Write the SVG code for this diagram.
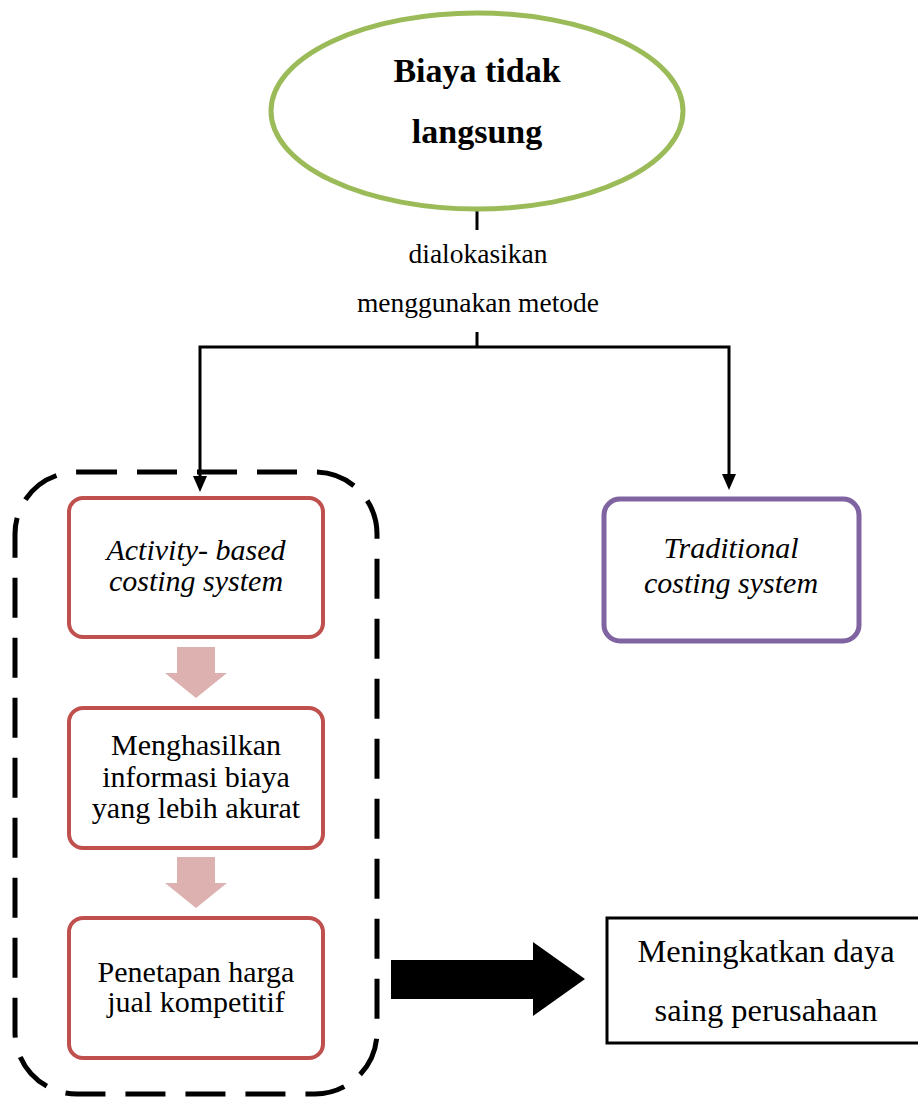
<svg xmlns="http://www.w3.org/2000/svg" width="918" height="1097" viewBox="0 0 918 1097">
<style>
text{font-family:"Liberation Serif","Times New Roman",serif;fill:#000;text-anchor:middle}
.lbl{font-size:27.5px}
.box{font-size:30px}
.it{font-style:italic}
.red{fill:#fff;stroke:#C0504D;stroke-width:4}
.pink{fill:#DDB1B0}
.conn{fill:none;stroke:#000;stroke-width:3}
</style>
<rect width="918" height="1097" fill="#fff"/>

<g id="group-abc">
<rect x="15" y="472" width="362" height="622" rx="62" fill="none" stroke="#000" stroke-width="5" stroke-dasharray="40 20"/>
</g>

<g id="connectors">
<line class="conn" x1="477" y1="203" x2="477" y2="230"/>
<line class="conn" x1="477" y1="332" x2="477" y2="348"/>
<path class="conn" d="M200,478 V347 H729 V476" stroke-linejoin="miter"/>
<path d="M193,476 L207,476 L200,492 Z" fill="#000"/>
<path d="M722,474 L736,474 L729,490 Z" fill="#000"/>
<path class="pink" d="M177,647 H215 V673 H227 L196,698 L165,673 H177 Z"/>
<path class="pink" d="M177,857 H215 V883 H227 L196,908 L165,883 H177 Z"/>
<path d="M391,960 H533 V942 L585,979 L533,1016 V999 H391 Z" fill="#000"/>
</g>

<g id="node-biaya">
<ellipse cx="477" cy="111" rx="206" ry="98" fill="#fff" stroke="#9BBB59" stroke-width="5"/>
<text x="477" y="82" style="font-size:34px;font-weight:bold">Biaya tidak</text>
<text x="477" y="143" style="font-size:34px;font-weight:bold">langsung</text>
</g>

<g id="label-metode">
<text class="lbl" x="478" y="263">dialokasikan</text>
<text class="lbl" x="478" y="312">menggunakan metode</text>
</g>

<g id="node-abc">
<rect class="red" x="69" y="498" width="254" height="139" rx="14"/>
<text class="box it" x="196" y="560">Activity- based</text>
<text class="box it" x="196" y="591">costing system</text>
</g>

<g id="node-informasi">
<rect class="red" x="69" y="708" width="254" height="140" rx="14"/>
<text class="box" x="196" y="755">Menghasilkan</text>
<text class="box" x="196" y="787">informasi biaya</text>
<text class="box" x="196" y="818">yang lebih akurat</text>
</g>

<g id="node-harga">
<rect class="red" x="69" y="918" width="254" height="140" rx="14"/>
<text class="box" x="196" y="982">Penetapan harga</text>
<text class="box" x="196" y="1012">jual kompetitif</text>
</g>

<g id="node-traditional">
<rect x="604" y="499" width="255" height="142" rx="16" fill="#fff" stroke="#8064A2" stroke-width="5"/>
<text class="box it" x="731" y="558">Traditional</text>
<text class="box it" x="731" y="593">costing system</text>
</g>

<g id="node-daya">
<rect x="607" y="918" width="314" height="125" fill="#fff" stroke="#000" stroke-width="3"/>
<text x="766" y="962" style="font-size:32.5px">Meningkatkan daya</text>
<text x="766" y="1021" style="font-size:32.5px">saing perusahaan</text>
</g>
</svg>
